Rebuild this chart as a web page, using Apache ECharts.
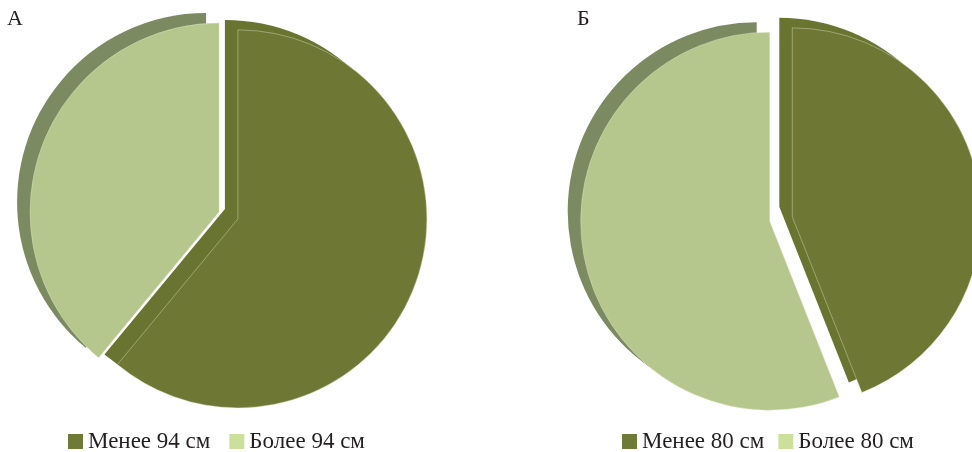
<!DOCTYPE html>
<html>
<head>
<meta charset="utf-8">
<script src="https://cdn.jsdelivr.net/npm/echarts@6/dist/echarts.min.js"></script>
<style>
  html, body { margin: 0; padding: 0; background: #ffffff; }
  #chart { width: 972px; height: 452px; }
</style>
</head>
<body>
<div id="chart"></div>
<script>
// Waist-circumference shares, two groups
const groupTitles = ['А', 'Б'];
const namesA = ['Менее 94 см', 'Более 94 см'];
const valuesA = [61, 39];
const namesB = ['Менее 80 см', 'Более 80 см'];
const valuesB = [44, 56];

// Face colours and the darker side (depth) colours
const faceColors = ['#6e7834', '#b5c78c'];
const sideColors = ['#6a7431', '#7c8a61'];
const legendColors = ['#6e7a35', '#cde09b'];

const R = 189;
const DEPTH_X = -13, DEPTH_Y = -10;
const centersA = [228.5, 215.5];
const centersB = [781, 219];

function sliceData(names, values, colors, withEdge) {
  return names.map((n, i) => ({
    name: n,
    value: values[i],
    selected: true,
    itemStyle: {
      color: colors[i],
      borderColor: withEdge ? 'rgba(225,232,200,0.6)' : colors[i],
      borderWidth: withEdge ? 0.7 : 0
    }
  }));
}

function pieLayer(names, values, center, colors, withEdge, offset) {
  return {
    type: 'pie',
    silent: true,
    radius: [0, R],
    center: center,
    startAngle: 90,
    clockwise: true,
    selectedMode: 'multiple',
    selectedOffset: offset,
    label: { show: false },
    labelLine: { show: false },
    emphasis: { disabled: true },
    data: sliceData(names, values, colors, withEdge)
  };
}

const chart = echarts.init(document.getElementById('chart'), null, { renderer: 'canvas' });

const legendText = { fontFamily: 'Liberation Serif', fontSize: 23, color: '#231f20' };
const titleText = { fontFamily: 'Liberation Serif', fontSize: 22, fontWeight: 'normal', color: '#231f20' };

chart.setOption({
  animation: false,
  backgroundColor: '#ffffff',
  title: [
    { text: groupTitles[0], left: 7, top: 8, padding: 0, textStyle: titleText },
    { text: groupTitles[1], left: 577, top: 8, padding: 0, textStyle: titleText }
  ],
  legend: [
    {
      left: 68, top: 430, padding: 0, itemWidth: 15, itemHeight: 15, itemGap: 19,
      icon: 'rect', selectedMode: false, textStyle: legendText,
      data: namesA.map((n, i) => ({ name: n, itemStyle: { color: legendColors[i] } }))
    },
    {
      left: 622, top: 430, padding: 0, itemWidth: 15, itemHeight: 15, itemGap: 14,
      icon: 'rect', selectedMode: false, textStyle: legendText,
      data: namesB.map((n, i) => ({ name: n, itemStyle: { color: legendColors[i] } }))
    }
  ],
  series: [
    // depth layers drawn first, shifted up-left
    pieLayer(namesA, valuesA, [centersA[0] + DEPTH_X, centersA[1] + DEPTH_Y], sideColors, false, 10),
    pieLayer(namesB, valuesB, [centersB[0] + DEPTH_X, centersB[1] + DEPTH_Y], sideColors, false, 11.5),
    // top faces
    pieLayer(namesA, valuesA, centersA, faceColors, true, 10),
    pieLayer(namesB, valuesB, centersB, faceColors, true, 11.5)
  ]
});
</script>
</body>
</html>
